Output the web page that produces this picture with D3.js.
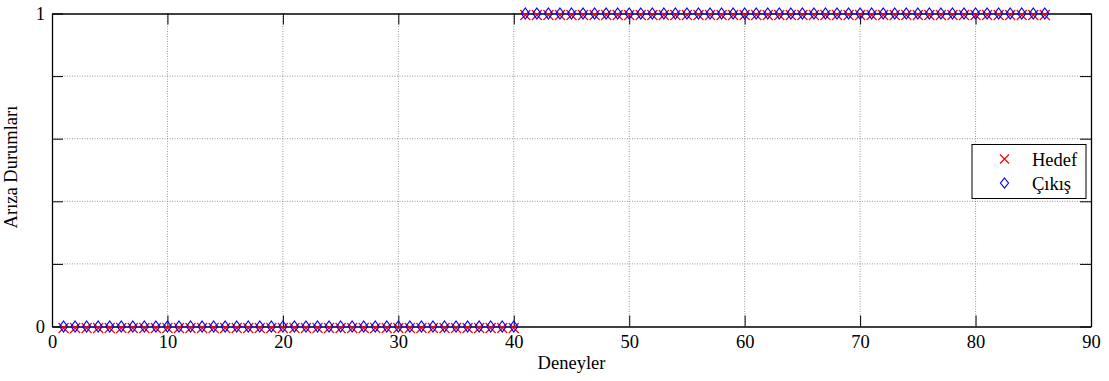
<!DOCTYPE html>
<html>
<head>
<meta charset="utf-8">
<script src="https://cdn.jsdelivr.net/npm/d3@7"></script>
<style>
  html, body { margin: 0; padding: 0; background: #fff; }
  svg { display: block; }
  svg text { font-family: "Liberation Serif", "Times New Roman", serif; fill: #000; }
</style>
</head>
<body>
<svg id="chart" width="1109" height="381"></svg>
<script>
// Experiment indices and fault states (target vs. network output)
const experiments = d3.range(1, 87);
const hedef = [
  0,0,0,0,0,0,0,0,0,0, 0,0,0,0,0,0,0,0,0,0,
  0,0,0,0,0,0,0,0,0,0, 0,0,0,0,0,0,0,0,0,0,
  1,1,1,1,1,1,1,1,1,1, 1,1,1,1,1,1,1,1,1,1,
  1,1,1,1,1,1,1,1,1,1, 1,1,1,1,1,1,1,1,1,1,
  1,1,1,1,1,1
];
const cikis = [
  0,0,0,0,0,0,0,0,0,0, 0,0,0,0,0,0,0,0,0,0,
  0,0,0,0,0,0,0,0,0,0, 0,0,0,0,0,0,0,0,0,0,
  1,1,1,1,1,1,1,1,1,1, 1,1,1,1,1,1,1,1,1,1,
  1,1,1,1,1,1,1,1,1,1, 1,1,1,1,1,1,1,1,1,1,
  1,1,1,1,1,1
];
const xTicks = [0, 10, 20, 30, 40, 50, 60, 70, 80, 90];
const yTicks = [0, 0.2, 0.4, 0.6, 0.8, 1];
const yTickLabels = ["0", "", "", "", "", "1"];
const seriesNames = ["Hedef", "Çıkış"];

const svg = d3.select("#chart");
const plotL = 52, plotR = 1091, plotT = 13.5, plotB = 326.5;
const fontSize = 18.5;
const serif = '"Liberation Serif", "Times New Roman", serif';

const x = d3.scaleLinear().domain([0, 90]).range([plotL, plotR]);
const y = d3.scaleLinear().domain([0, 1]).range([plotB, plotT]);

// dotted grid
const grid = svg.append("g").attr("stroke", "#808080").attr("stroke-width", 0.8)
  .attr("stroke-dasharray", "1,1.5");
xTicks.slice(1, -1).forEach(t => grid.append("line")
  .attr("x1", x(t)).attr("x2", x(t)).attr("y1", plotT).attr("y2", plotB));
yTicks.slice(1, -1).forEach(t => grid.append("line")
  .attr("x1", plotL).attr("x2", plotR).attr("y1", y(t)).attr("y2", y(t)));

// axes with inward ticks
const tl = 11;
const xAxis = d3.axisBottom(x).tickValues(xTicks).tickSizeInner(-tl).tickSizeOuter(0).tickPadding(8);
const yAxis = d3.axisLeft(y).tickValues(yTicks).tickFormat((d, i) => yTickLabels[i])
  .tickSizeInner(-tl).tickSizeOuter(0).tickPadding(7);
const xTop = d3.axisTop(x).tickValues(xTicks).tickSizeInner(-tl).tickSizeOuter(0).tickFormat("");
const yRight = d3.axisRight(y).tickValues(yTicks).tickSizeInner(-tl).tickSizeOuter(0).tickFormat("");

function style(g) {
  g.attr("font-family", serif).attr("font-size", fontSize);
  g.select(".domain").attr("stroke", "#000").attr("stroke-width", 1.3);
  g.selectAll(".tick line").attr("stroke", "#000").attr("stroke-width", 1);
  g.selectAll(".tick text").attr("fill", "#000")
    .style("font-family", serif).style("font-size", fontSize + "px");
}
svg.append("g").attr("transform", `translate(0,${plotB})`).call(xAxis).call(style);
svg.append("g").attr("transform", `translate(${plotL},0)`).call(yAxis).call(style);
svg.append("g").attr("transform", `translate(0,${plotT})`).call(xTop).call(style);
svg.append("g").attr("transform", `translate(${plotR},0)`).call(yRight).call(style);

// marker shapes
function crossPath(cx, cy, r) {
  return `M${cx - r},${cy - r}L${cx + r},${cy + r}M${cx - r},${cy + r}L${cx + r},${cy - r}`;
}
function diamondPath(cx, cy, w, h) {
  return `M${cx},${cy - h}L${cx + w},${cy}L${cx},${cy + h}L${cx - w},${cy}Z`;
}

// Hedef: red crosses
svg.append("g").selectAll("path").data(experiments).join("path")
  .attr("d", (d, i) => crossPath(x(d), y(hedef[i]) + 1.5, 5))
  .attr("stroke", "#ff0000").attr("stroke-width", 1.2).attr("fill", "none");

// Çıkış: blue diamonds
svg.append("g").selectAll("path").data(experiments).join("path")
  .attr("d", (d, i) => diamondPath(x(d), y(cikis[i]), 4, 5.5))
  .attr("stroke", "#0000ff").attr("stroke-width", 1.2).attr("fill", "none");

// axis titles
svg.append("text").attr("x", (plotL + plotR) / 2).attr("y", 369)
  .attr("text-anchor", "middle").style("font-size", fontSize + "px").text("Deneyler");
svg.append("text").attr("transform", `translate(17,167) rotate(-90)`)
  .attr("text-anchor", "middle").style("font-size", fontSize + "px").text("Arıza Durumları");

// legend
const lg = svg.append("g");
lg.append("rect").attr("x", 972).attr("y", 144.5).attr("width", 114).attr("height", 54)
  .attr("fill", "#fff").attr("stroke", "#000").attr("stroke-width", 1);
lg.append("path").attr("d", crossPath(1004.5, 159, 4.5))
  .attr("stroke", "#ff0000").attr("stroke-width", 1.2).attr("fill", "none");
lg.append("path").attr("d", diamondPath(1004.5, 183, 4, 5))
  .attr("stroke", "#0000ff").attr("stroke-width", 1.2).attr("fill", "none");
lg.append("text").attr("x", 1032).attr("y", 166).style("font-size", fontSize + "px").text(seriesNames[0]);
lg.append("text").attr("x", 1032).attr("y", 190).style("font-size", fontSize + "px").text(seriesNames[1]);
</script>
</body>
</html>
